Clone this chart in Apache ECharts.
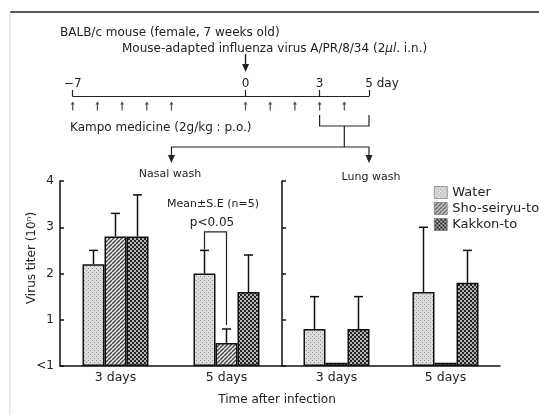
<!DOCTYPE html>
<html><head><meta charset="utf-8">
<script src="https://cdn.jsdelivr.net/npm/echarts@6/dist/echarts.min.js"></script>
<style>html,body{margin:0;padding:0;background:#fff}#c{width:539px;height:415px}</style>
</head><body><div id="c"></div>
<script>
// ---- data ----
const categories = ['3 days', '5 days'];
const seriesNames = ['Water', 'Sho-seiryu-to', 'Kakkon-to'];
const yTickLabels = ['<1', '1', '2', '3', '4'];
// Nasal wash: mean and mean + S.E.
const nasalWater = [2.2, 2.0];
const nasalSho = [2.8, 0.5];
const nasalKakkon = [2.8, 1.6];
const nasalWaterTop = [2.5, 2.5];
const nasalShoTop = [3.3, 0.8];
const nasalKakkonTop = [3.7, 2.4];
// Lung wash
const lungWater = [0.8, 1.6];
const lungSho = [0.07, 0.07];
const lungKakkon = [0.8, 1.8];
const lungWaterTop = [1.5, 3.0];
const lungShoTop = [null, null];
const lungKakkonTop = [1.5, 2.5];
// Protocol timeline
const timelineDays = ['-7','-6','-5','-4','-3','-2','-1','0','1','2','3','4','5'];
const timelineLabels = ['-7', '0', '3', '5'];
const medicationDays = ['-7','-6','-5','-4','-3','0','1','2','3','4'];
const infectionDay = '0';
const washStart = '3', washEnd = '5', nasalArrowDay = '-3';

// ---- styles ----
const FONT = 'DejaVu Sans';
const INK = '#222';
const BAR_W = 22;
function tile(w, h, draw) { const c = document.createElement('canvas'); c.width = w; c.height = h; const g = c.getContext('2d'); draw(g); return c; }
const waterPat = tile(4, 4, g => { g.fillStyle = '#dcdcdc'; g.fillRect(0,0,4,4); g.fillStyle = '#939393'; g.fillRect(0,0,1,1); g.fillRect(2,2,1,1); });
const shoPat = tile(4, 4, g => { g.fillStyle = '#e8e8e8'; g.fillRect(0,0,4,4); g.strokeStyle = '#444'; g.lineWidth = 1.4;
  for (const x of [0,4,8]) { g.beginPath(); g.moveTo(x-4, 4); g.lineTo(x, 0); g.stroke(); } });
const kakPat = tile(4, 4, g => { g.fillStyle = '#252525'; g.fillRect(0,0,4,4); g.fillStyle = '#eee';
  g.beginPath(); g.arc(1,1,0.95,0,Math.PI*2); g.fill(); g.beginPath(); g.arc(3,3,0.95,0,Math.PI*2); g.fill(); });
const pats = [waterPat, shoPat, kakPat];

function barSeries(k, data, gi) {
  return { type: 'bar', name: seriesNames[k], data, xAxisIndex: gi, yAxisIndex: gi,
    barWidth: BAR_W, barGap: '0%', z: 2,
    itemStyle: { color: { image: pats[k], repeat: 'repeat' }, borderColor: '#111', borderWidth: 1.5 },
    emphasis: { disabled: true } };
}
function errSeries(k, means, tops, gi) {
  const d = [];
  categories.forEach((c, i) => { if (tops[i] != null) d.push([i, means[i], tops[i]]); });
  return { type: 'custom', name: 'err' + gi + k, xAxisIndex: gi, yAxisIndex: gi, z: 5, silent: true,
    encode: { x: 0, y: [1, 2] }, data: d,
    renderItem(params, api) {
      const b = api.coord([api.value(0), api.value(1)]);
      const t = api.coord([api.value(0), api.value(2)]);
      const x = b[0] + (k - 1) * BAR_W, cap = 4.5;
      return { type: 'group', children: [
        { type: 'line', shape: { x1: x, y1: b[1], x2: x, y2: t[1] }, style: { stroke: '#111', lineWidth: 1.5 } },
        { type: 'line', shape: { x1: x - cap, y1: t[1], x2: x + cap, y2: t[1] }, style: { stroke: '#111', lineWidth: 1.5 } }
      ] };
    } };
}
const valAxis = (gi, labels) => ({ type: 'value', gridIndex: gi, min: 0, max: 4, interval: 1,
  axisLine: { show: true, lineStyle: { color: '#111', width: 1.5 } },
  axisTick: { show: true, inside: true, length: 4, lineStyle: { color: '#111', width: 1.5 } },
  splitLine: { show: false },
  axisLabel: { show: labels, fontSize: 12, color: INK, margin: 6, fontFamily: FONT, formatter: v => yTickLabels[v] } });
const catAxis = gi => ({ type: 'category', gridIndex: gi, data: categories,
  axisLine: { show: true, lineStyle: { color: '#111', width: 1.5 } }, axisTick: { show: false },
  axisLabel: { fontSize: 12.5, color: INK, margin: 5, fontFamily: FONT } });

const arrowUp = 'path://M2,0 L4,3.2 L2.6,3.2 L2.6,10 L1.4,10 L1.4,3.2 L0,3.2 Z';

const option = {
  animation: false,
  textStyle: { fontFamily: FONT, color: INK },
  grid: [
    { left: 60, top: 181, width: 222, height: 185 },
    { left: 282, top: 181, width: 218, height: 185 },
    { left: 72.7, top: 96, width: 296.3, height: 20 }
  ],
  xAxis: [catAxis(0), catAxis(1), {
    type: 'category', gridIndex: 2, data: timelineDays, boundaryGap: false, position: 'top',
    axisLine: { onZero: false, lineStyle: { color: '#222', width: 1.2 } },
    axisTick: { show: true, length: 6, interval: (i, v) => timelineLabels.includes(v), lineStyle: { color: '#222', width: 1.2 } },
    axisLabel: { interval: (i, v) => timelineLabels.includes(v), fontSize: 12, color: INK, margin: 6, fontFamily: FONT, formatter: v => v.replace('-', '\u2212') },
    name: 'day', nameLocation: 'end', nameGap: 7,
    nameTextStyle: { fontSize: 12, color: INK, fontFamily: FONT, verticalAlign: 'bottom', padding: [0, 0, 6, 0] }
  }],
  yAxis: [valAxis(0, true), valAxis(1, false), { type: 'value', gridIndex: 2, min: 0, max: 1, show: false }],
  legend: { data: seriesNames, orient: 'vertical', left: 434, top: 186, padding: 0, itemWidth: 13, itemHeight: 12, itemGap: 3,
    icon: 'rect', selectedMode: false, textStyle: { fontSize: 13, color: INK, fontFamily: FONT },
    itemStyle: { borderWidth: 0.6, borderColor: '#666' } },
  series: [
    barSeries(0, nasalWater, 0), barSeries(1, nasalSho, 0), barSeries(2, nasalKakkon, 0),
    barSeries(0, lungWater, 1), barSeries(1, lungSho, 1), barSeries(2, lungKakkon, 1),
    errSeries(0, nasalWater, nasalWaterTop, 0), errSeries(1, nasalSho, nasalShoTop, 0), errSeries(2, nasalKakkon, nasalKakkonTop, 0),
    errSeries(0, lungWater, lungWaterTop, 1), errSeries(1, lungSho, lungShoTop, 1), errSeries(2, lungKakkon, lungKakkonTop, 1),
    { type: 'scatter', name: 'medication', xAxisIndex: 2, yAxisIndex: 2, silent: true,
      data: medicationDays.map(d => [d, 0.5]), symbol: arrowUp, symbolSize: [4, 9], itemStyle: { color: '#222' } }
  ]
};
const chart = echarts.init(document.getElementById('c'), null, { renderer: 'canvas' });
chart.setOption(option);

// ---- annotations / protocol diagram ----
const tx = d => chart.convertToPixel({ xAxisIndex: 2 }, d);
const cx = c => chart.convertToPixel({ xAxisIndex: 0 }, c);
const py = v => chart.convertToPixel({ yAxisIndex: 0 }, v);
const ln = (pts, w) => ({ type: 'polyline', silent: true, shape: { points: pts }, style: { stroke: '#222', lineWidth: w || 1.2, fill: null } });
const headDown = (x, tip) => ({ type: 'polygon', silent: true, shape: { points: [[x - 3.5, tip - 8], [x + 3.5, tip - 8], [x, tip]] }, style: { fill: '#222' } });
const txt = (s, x, y, o) => Object.assign({ type: 'text', silent: true, x, y,
  style: Object.assign({ text: s, fontSize: 12, fontFamily: FONT, fill: INK, align: 'left', verticalAlign: 'middle' }, (o && o.style) || {}) }, (o && o.el) || {});

const x0 = tx(infectionDay), x3 = tx(washStart), x5 = tx(washEnd), xn = tx(nasalArrowDay);
const xmid = (x3 + x5) / 2;
const c5 = cx(categories[1]);
const xw = c5 - BAR_W, xs = c5;
const yBr = py(2.9), yL = py(nasalWaterTop[1]) - 1, yR = py(nasalShoTop[1]) - 4;

chart.setOption({ graphic: [
  ln([[10, 12], [539, 12]], 1.6),
  { type: 'line', silent: true, shape: { x1: 10, y1: 12, x2: 10, y2: 415 }, style: { stroke: '#d8d8d8', lineWidth: 1 } },
  txt('BALB/c mouse (female, 7 weeks old)', 60, 33),
  txt('Mouse-adapted influenza virus A/PR/8/34 (2{i|\u03bcl}. i.n.)', 122, 49,
      { style: { rich: { i: { fontStyle: 'italic', fontSize: 12, fontFamily: FONT, fill: INK } } } }),
  ln([[x0, 54], [x0, 66]], 1.4), headDown(x0, 72),
  txt('Kampo medicine (2g/kg : p.o.)', 70, 128),
  ln([[x3, 115], [x3, 126], [x5, 126], [x5, 115]]),
  ln([[xmid, 126], [xmid, 147]]),
  ln([[xn, 156], [xn, 147], [x5, 147], [x5, 156]]),
  headDown(xn, 163), headDown(x5, 163),
  txt('Nasal wash', 170, 174, { style: { align: 'center', fontSize: 11 } }),
  txt('Lung wash', 371, 177, { style: { align: 'center', fontSize: 11 } }),
  txt('Mean\u00b1S.E (n=5)', 213, 204, { style: { align: 'center', fontSize: 11 } }),
  txt('p<0.05', 212, 223, { style: { align: 'center' } }),
  ln([[xw, yL], [xw, yBr], [xs, yBr], [xs, yR]]),
  txt('Virus titer (10\u207f)', 32, 258, { style: { align: 'center' }, el: { rotation: Math.PI / 2 } }),
  txt('Time after infection', 277, 400, { style: { align: 'center' } })
] });
</script></body></html>
